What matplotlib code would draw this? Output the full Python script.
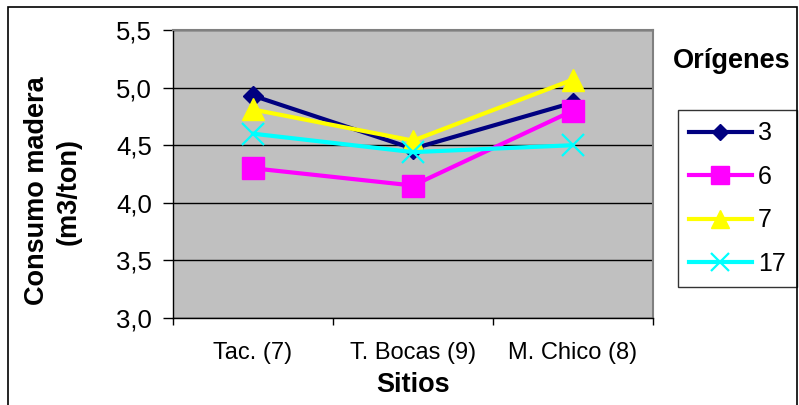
import numpy as np
import matplotlib
matplotlib.use("Agg")
import matplotlib.pyplot as plt
from matplotlib.patches import Rectangle
from matplotlib.ticker import FuncFormatter

plt.rcParams['font.family'] = ['Liberation Sans', 'DejaVu Sans']

# Data
sitios = ["Tac. (7)", "T. Bocas (9)", "M. Chico (8)"]
origen_3 = [4.93, 4.47, 4.87]
origen_6 = [4.30, 4.15, 4.80]
origen_7 = [4.81, 4.54, 5.07]
origen_17 = [4.60, 4.44, 4.50]
yticks = [3.0, 3.5, 4.0, 4.5, 5.0, 5.5]

series = [
    ("3", origen_3, "#000080", "D", 10, 1.0),
    ("6", origen_6, "#FF00FF", "s", 16, 1.0),
    ("7", origen_7, "#FFFF00", "^", 16, 1.0),
    ("17", origen_17, "#00FFFF", "x", 16, 1.6),
]

fig = plt.figure(figsize=(7.99, 4.05), dpi=100)
ax = fig.add_axes([0.2165, 0.2148, 0.6008, 0.7111])
ax.set_facecolor("#C0C0C0")

x = np.arange(1, len(sitios) + 1)
handles = []
for label, vals, color, mk, ms, mew in series:
    h, = ax.plot(x, vals, color=color, lw=3, marker=mk, markersize=ms,
                 markeredgewidth=mew, markeredgecolor=color, label=label,
                 clip_on=False, zorder=3)
    handles.append(h)

ax.set_xlim(0.5, len(sitios) + 0.5)
ax.set_ylim(3.0, 5.5)
ax.set_yticks(yticks)
ax.yaxis.set_major_formatter(FuncFormatter(lambda v, p: f"{v:.1f}".replace(".", ",")))
ax.set_xticks(x)
ax.set_xticklabels(sitios)
ax.set_xticks(np.arange(0.5, len(sitios) + 1), minor=True)
ax.tick_params(axis="x", which="major", length=0, labelsize=17, pad=17)
ax.tick_params(axis="x", which="minor", length=5, width=1, direction="out")
ax.tick_params(axis="y", length=7, width=1, direction="out", labelsize=18.5, pad=8)

ax.grid(axis="y", color="black", lw=1)
ax.set_axisbelow(True)
for s in ["top", "right"]:
    ax.spines[s].set_color("#808080")
    ax.spines[s].set_linewidth(1.5)
for s in ["left", "bottom"]:
    ax.spines[s].set_color("black")
    ax.spines[s].set_linewidth(1)

fig.text(413 / 799, 13 / 405, "Sitios", ha="center", va="baseline",
         fontsize=19.5, fontweight="bold")
fig.text(0.066, 0.528, "Consumo madera\n(m3/ton)", rotation=90, ha="center",
         va="center", fontsize=19.5, fontweight="bold", linespacing=1.25)

fig.text(732 / 799, (405 - 68) / 405, "Orígenes", ha="center", va="baseline",
         fontsize=19.5, fontweight="bold")
leg = ax.legend(handles=handles, loc="upper left", bbox_to_anchor=(1.052, 0.722),
                frameon=True, fancybox=False, fontsize=18, handlelength=2.5,
                labelspacing=0.78, borderpad=0.45, handletextpad=0.25,
                markerscale=0.8, borderaxespad=0)
leg.get_frame().set_edgecolor("black")
leg.get_frame().set_linewidth(1)

fig.patches.append(Rectangle((8 / 799, -0.05), 789 / 799, 1 - 7 / 405 + 0.05,
                             transform=fig.transFigure, fill=False,
                             edgecolor="black", lw=1.2))

fig.savefig("out.png", dpi=100)
